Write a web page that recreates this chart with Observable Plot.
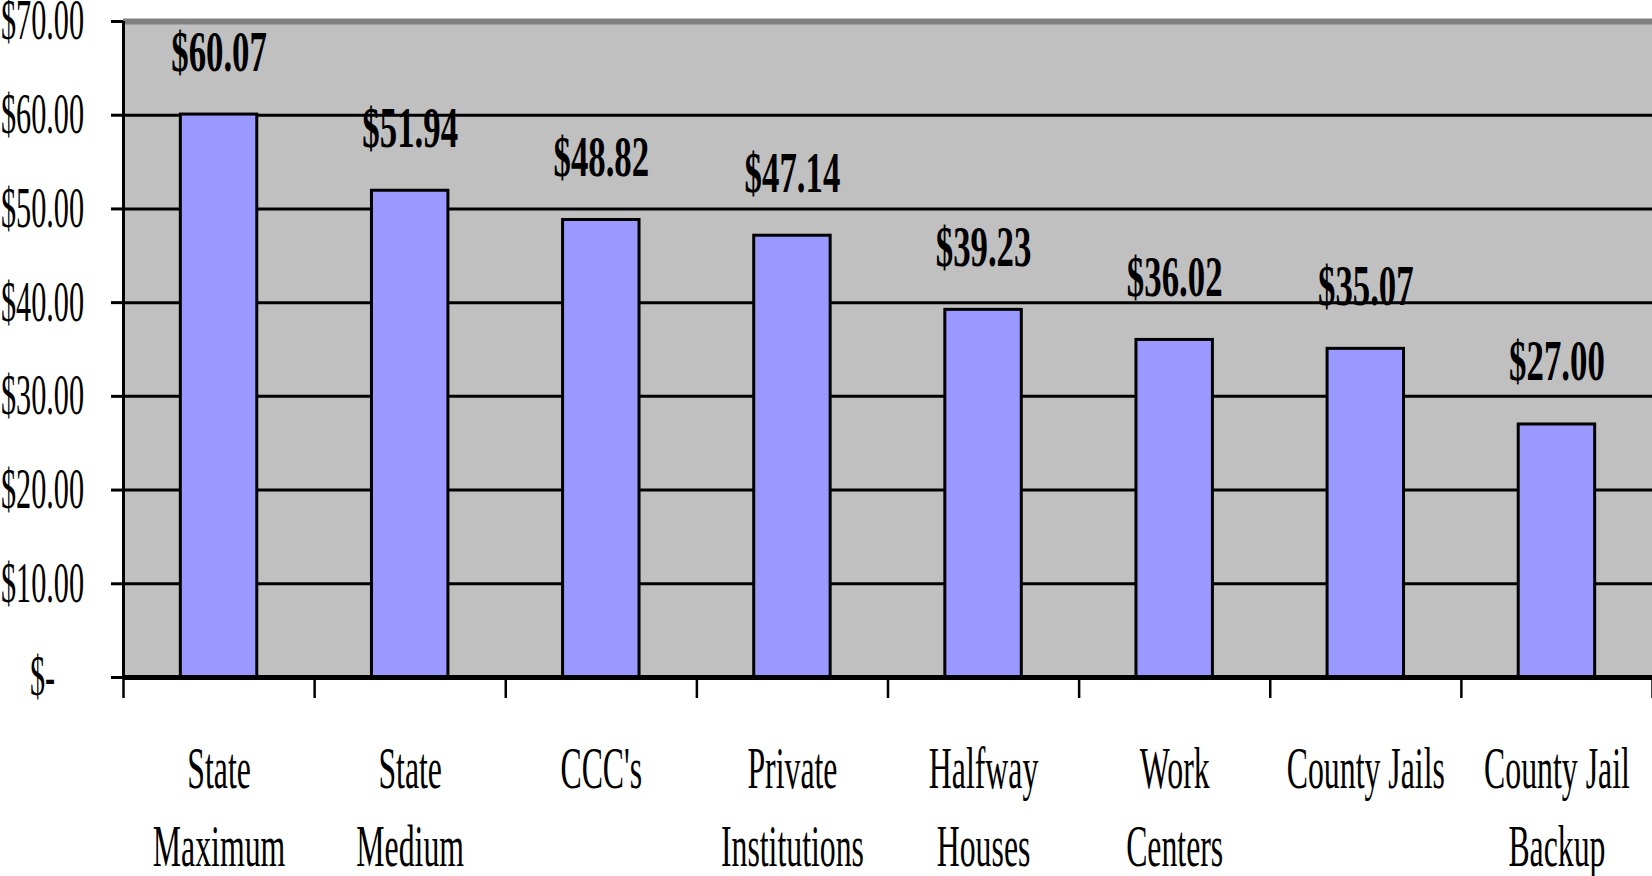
<!DOCTYPE html>
<html>
<head>
<meta charset="utf-8">
<script src="https://cdn.jsdelivr.net/npm/d3@7"></script>
<script src="https://cdn.jsdelivr.net/npm/@observablehq/plot@0.6"></script>
<style>
  html, body { margin: 0; padding: 0; background: #ffffff; }
  #chart svg { display: block; }
</style>
</head>
<body>
<div id="chart"></div>
<script>
const categories = ["State\nMaximum", "State\nMedium", "CCC's", "Private\nInstitutions", "Halfway\nHouses", "Work\nCenters", "County Jails", "County Jail\nBackup"];
const costs = [60.07, 51.94, 48.82, 47.14, 39.23, 36.02, 35.07, 27.00];
const yTicks = [0, 10, 20, 30, 40, 50, 60, 70];
const gridTicks = [10, 20, 30, 40, 50, 60];

const data = categories.map((c, i) => ({i, category: c, cost: costs[i]}));
const boundaries = d3.range(0, categories.length + 1);
const fmtMoney = d => d === 0 ? "$-" : "$" + d.toFixed(2);

const chart = Plot.plot({
  width: 1652,
  height: 876,
  marginLeft: 123,
  marginRight: 0,
  marginTop: 21,
  marginBottom: 199,
  style: {fontFamily: "'Liberation Serif', 'Times New Roman', serif", background: "#ffffff", color: "#000"},
  x: {type: "linear", domain: [0, categories.length], axis: null, label: null},
  y: {domain: [0, 70], axis: null, label: null},
  marks: [
    Plot.frame({fill: "#C0C0C0", stroke: null}),
    Plot.ruleY(gridTicks, {stroke: "#000", strokeWidth: 3}),
    Plot.ruleY([70], {stroke: "#808080", strokeWidth: 6}),
    Plot.rectY(data, {x1: d => d.i + 0.3, x2: d => d.i + 0.7, y: "cost", fill: "#9999FF", stroke: "#000", strokeWidth: 3}),
    Plot.ruleX([0], {stroke: "#000", strokeWidth: 3}),
    Plot.ruleY([0], {stroke: "#000", strokeWidth: 5}),
    Plot.axisY({ticks: yTicks, tickSize: 12, tickPadding: 69, tickFormat: fmtMoney, textAnchor: "middle",
      fontSize: 56, strokeWidth: 3, stroke: "#000", fill: "#000", label: null}),
    Plot.axisX({ticks: boundaries, tickSize: 21, tickFormat: () => "", strokeWidth: 2.5, stroke: "#000", label: null}),
    Plot.text(data, {x: d => d.i + 0.5, y: 0, text: "category", lineAnchor: "top", dy: 55,
      fontSize: 60, lineHeight: 1.3, fill: "#000"}),
    Plot.text(data, {x: d => d.i + 0.5, y: "cost", text: d => fmtMoney(d.cost), lineAnchor: "bottom", dy: -44,
      fontSize: 58, fontWeight: "bold", fill: "#000"})
  ]
});

document.getElementById("chart").appendChild(chart);

// Condense the text horizontally, as in the reference
d3.select(chart).selectAll("text").each(function() {
  const cs = getComputedStyle(this);
  const fs = parseFloat(cs.fontSize);
  const bold = cs.fontWeight === "bold" || +cs.fontWeight >= 600;
  const s = bold ? 0.6 : (fs >= 59 ? 0.53 : 0.54);
  const t = this.getAttribute("transform") || "";
  this.setAttribute("transform", t + ` scale(${s},1)`);
});
</script>
</body>
</html>
